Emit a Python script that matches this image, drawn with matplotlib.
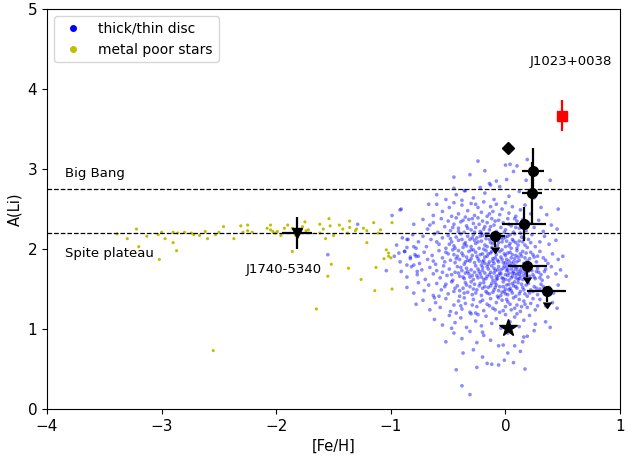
import matplotlib
matplotlib.use("Agg")
import matplotlib.pyplot as plt
from matplotlib.lines import Line2D
import numpy as np

# disc stars ([Fe/H], A(Li))
disc = np.array([
    (-0.24, 3.10), (0.19, 3.12), (0.00, 3.05), (0.04, 3.06), (0.10, 3.04), (-0.18, 2.98),
    (-0.14, 2.82), (-0.08, 2.85), (0.01, 2.87), (0.07, 2.97), (0.18, 2.86), (0.39, 2.86),
    (-0.31, 2.93), (-0.45, 2.90),
    (-0.60, 2.68), (-0.35, 2.73), (-0.43, 2.68), (-0.45, 2.76), (-0.36, 2.73), (-0.22, 2.77),
    (-0.13, 2.80), (-0.28, 2.64), (-0.18, 2.70), (-0.05, 2.78), (0.03, 2.66), (0.12, 2.72),
    (-0.52, 2.62), (-0.10, 2.62), (0.25, 2.64), (-0.38, 2.61),
    (-0.92, 2.49), (-0.67, 2.56), (-0.60, 2.56), (0.46, 2.50), (-0.55, 2.47), (-0.49, 2.52),
    (-0.45, 2.58), (-0.41, 2.44), (-0.38, 2.55), (-0.33, 2.48), (-0.30, 2.57), (-0.27, 2.42),
    (-0.24, 2.52), (-0.21, 2.46), (-0.19, 2.59), (-0.16, 2.41), (-0.13, 2.53), (-0.11, 2.47),
    (-0.08, 2.56), (-0.05, 2.43), (-0.03, 2.50), (0.00, 2.58), (0.03, 2.45), (0.06, 2.53),
    (0.09, 2.41), (0.13, 2.49), (0.17, 2.55), (0.22, 2.44), (0.31, 2.52), (-0.63, 2.42),
    (-0.47, 2.41), (-0.35, 2.40), (-0.26, 2.56), (-0.14, 2.44), (0.36, 2.43),
    (-0.80, 2.31), (-0.72, 2.37), (-0.68, 2.25), (-0.63, 2.33), (-0.59, 2.21), (-0.56, 2.38),
    (-0.53, 2.28), (-0.50, 2.35), (-0.48, 2.23), (-0.45, 2.31), (-0.43, 2.39), (-0.41, 2.26),
    (-0.39, 2.34), (-0.36, 2.21), (-0.34, 2.29), (-0.32, 2.37), (-0.30, 2.24), (-0.28, 2.32),
    (-0.26, 2.27), (-0.24, 2.39), (-0.22, 2.22), (-0.20, 2.35), (-0.18, 2.28), (-0.16, 2.33),
    (-0.14, 2.24), (-0.12, 2.38), (-0.10, 2.30), (-0.08, 2.22), (-0.06, 2.36), (-0.04, 2.27),
    (-0.02, 2.33), (0.00, 2.24), (0.02, 2.38), (0.05, 2.29), (0.07, 2.21), (0.10, 2.35),
    (0.12, 2.26), (0.15, 2.37), (0.18, 2.23), (0.21, 2.32), (0.25, 2.27), (0.29, 2.36),
    (0.33, 2.22), (0.40, 2.30), (0.45, 2.25), (-0.66, 2.30), (-0.46, 2.27), (-0.37, 2.36),
    (-0.27, 2.21), (-0.19, 2.25), (-0.09, 2.35), (0.03, 2.31), (0.08, 2.38), (-0.29, 2.38),
    (-1.29, 2.31),
    (-0.95, 2.05), (-0.90, 2.14), (-0.86, 2.02), (-0.81, 2.18), (-0.76, 2.09), (-0.72, 2.16),
    (-0.69, 2.03), (-0.65, 2.12), (-0.62, 2.19), (-0.58, 2.06), (-0.55, 2.14), (-0.52, 2.01),
    (-0.50, 2.17), (-0.47, 2.09), (-0.45, 2.04), (-0.43, 2.15), (-0.41, 2.11), (-0.39, 2.19),
    (-0.37, 2.02), (-0.35, 2.08), (-0.33, 2.16), (-0.31, 2.12), (-0.30, 2.03), (-0.28, 2.18),
    (-0.26, 2.07), (-0.25, 2.14), (-0.23, 2.01), (-0.21, 2.10), (-0.20, 2.17), (-0.18, 2.05),
    (-0.17, 2.13), (-0.15, 2.19), (-0.13, 2.08), (-0.12, 2.02), (-0.10, 2.15), (-0.08, 2.11),
    (-0.07, 2.04), (-0.05, 2.18), (-0.03, 2.09), (-0.02, 2.13), (0.00, 2.03), (0.02, 2.16),
    (0.04, 2.07), (0.06, 2.12), (0.08, 2.19), (0.10, 2.01), (0.12, 2.10), (0.14, 2.15),
    (0.17, 2.05), (0.20, 2.12), (0.23, 2.18), (0.26, 2.03), (0.30, 2.09), (0.34, 2.16),
    (0.38, 2.06), (0.44, 2.11), (-0.60, 2.09), (-0.48, 2.13), (-0.34, 2.04), (-0.27, 2.11),
    (-0.19, 2.00), (-0.11, 2.07), (-0.04, 2.14), (0.05, 2.01), (0.09, 2.08), (0.16, 2.14),
    (-0.38, 2.12), (-0.22, 2.16), (-0.14, 2.12), (0.01, 2.10),
    (-0.97, 1.91), (-0.92, 1.84), (-0.88, 1.97), (-0.83, 1.88), (-0.79, 1.93), (-0.75, 1.82),
    (-0.71, 1.96), (-0.68, 1.87), (-0.64, 1.92), (-0.61, 1.81), (-0.58, 1.98), (-0.55, 1.89),
    (-0.53, 1.84), (-0.50, 1.94), (-0.48, 1.86), (-0.46, 1.99), (-0.44, 1.83), (-0.42, 1.91),
    (-0.40, 1.87), (-0.38, 1.95), (-0.36, 1.81), (-0.34, 1.90), (-0.32, 1.97), (-0.31, 1.85),
    (-0.29, 1.92), (-0.27, 1.83), (-0.26, 1.96), (-0.24, 1.88), (-0.22, 1.93), (-0.21, 1.80),
    (-0.19, 1.86), (-0.17, 1.98), (-0.16, 1.91), (-0.14, 1.84), (-0.13, 1.95), (-0.11, 1.88),
    (-0.10, 1.82), (-0.08, 1.93), (-0.07, 1.86), (-0.05, 1.97), (-0.04, 1.90), (-0.02, 1.83),
    (-0.01, 1.94), (0.01, 1.87), (0.02, 1.81), (0.04, 1.96), (0.05, 1.89), (0.07, 1.84),
    (0.09, 1.92), (0.10, 1.98), (0.12, 1.86), (0.14, 1.91), (0.16, 1.82), (0.18, 1.95),
    (0.21, 1.88), (0.24, 1.93), (0.27, 1.84), (0.30, 1.97), (0.33, 1.89), (0.37, 1.82),
    (0.41, 1.94), (0.46, 1.87), (0.50, 1.91), (-0.63, 1.85), (-0.52, 1.96), (-0.43, 1.88),
    (-0.35, 1.84), (-0.28, 1.99), (-0.23, 1.85), (-0.18, 1.90), (-0.12, 1.97), (-0.06, 1.84),
    (-0.03, 1.99), (0.00, 1.92), (0.03, 1.85), (0.06, 1.93), (0.08, 1.80), (0.11, 1.90),
    (0.15, 1.97), (0.20, 1.83), (0.25, 1.90), (-0.15, 1.81), (-0.09, 1.89), (-0.41, 1.98),
    (-0.20, 1.94),
    (-0.91, 1.72), (-0.86, 1.65), (-0.82, 1.78), (-0.77, 1.68), (-0.73, 1.74), (-0.70, 1.62),
    (-0.66, 1.77), (-0.63, 1.69), (-0.60, 1.73), (-0.57, 1.64), (-0.54, 1.79), (-0.51, 1.67),
    (-0.49, 1.75), (-0.46, 1.61), (-0.44, 1.71), (-0.42, 1.78), (-0.40, 1.66), (-0.38, 1.73),
    (-0.36, 1.63), (-0.34, 1.76), (-0.32, 1.69), (-0.30, 1.74), (-0.28, 1.62), (-0.26, 1.79),
    (-0.25, 1.67), (-0.23, 1.72), (-0.21, 1.65), (-0.20, 1.77), (-0.18, 1.70), (-0.17, 1.63),
    (-0.15, 1.75), (-0.14, 1.68), (-0.12, 1.79), (-0.11, 1.61), (-0.09, 1.73), (-0.08, 1.66),
    (-0.06, 1.78), (-0.05, 1.70), (-0.03, 1.64), (-0.02, 1.76), (0.00, 1.68), (0.01, 1.73),
    (0.03, 1.61), (0.04, 1.79), (0.06, 1.66), (0.07, 1.72), (0.09, 1.64), (0.10, 1.77),
    (0.12, 1.69), (0.13, 1.74), (0.15, 1.62), (0.17, 1.71), (0.19, 1.78), (0.21, 1.66),
    (0.23, 1.73), (0.26, 1.63), (0.28, 1.76), (0.31, 1.68), (0.34, 1.72), (0.37, 1.65),
    (0.40, 1.78), (0.44, 1.69), (0.48, 1.74), (0.53, 1.66), (-0.55, 1.71), (-0.47, 1.68),
    (-0.39, 1.77), (-0.31, 1.65), (-0.24, 1.75), (-0.19, 1.62), (-0.13, 1.71), (-0.07, 1.63),
    (-0.04, 1.74), (-0.01, 1.79), (0.02, 1.67), (0.05, 1.75), (0.08, 1.69), (0.11, 1.62),
    (0.14, 1.78), (0.16, 1.67), (0.20, 1.72), (0.24, 1.68), (0.29, 1.71), (-0.10, 1.76),
    (-0.16, 1.66), (0.00, 1.62), (0.07, 1.78), (-0.27, 1.71), (-0.35, 1.70), (0.18, 1.64),
    (0.32, 1.61), (-0.22, 1.69), (0.11, 1.72), (-0.06, 1.67),
    (-0.86, 1.52), (-0.80, 1.45), (-0.76, 1.58), (-0.71, 1.48), (-0.67, 1.55), (-0.63, 1.42),
    (-0.60, 1.57), (-0.56, 1.49), (-0.53, 1.53), (-0.50, 1.44), (-0.47, 1.59), (-0.45, 1.47),
    (-0.42, 1.54), (-0.40, 1.41), (-0.37, 1.51), (-0.35, 1.58), (-0.33, 1.46), (-0.31, 1.53),
    (-0.29, 1.43), (-0.27, 1.56), (-0.25, 1.49), (-0.23, 1.54), (-0.21, 1.42), (-0.19, 1.58),
    (-0.17, 1.47), (-0.15, 1.52), (-0.14, 1.44), (-0.12, 1.57), (-0.10, 1.49), (-0.08, 1.55),
    (-0.07, 1.41), (-0.05, 1.53), (-0.03, 1.46), (-0.02, 1.59), (0.00, 1.50), (0.02, 1.43),
    (0.03, 1.56), (0.05, 1.48), (0.07, 1.54), (0.09, 1.41), (0.11, 1.58), (0.13, 1.47),
    (0.15, 1.52), (0.17, 1.44), (0.20, 1.57), (0.22, 1.49), (0.25, 1.53), (0.28, 1.43),
    (0.31, 1.56), (0.34, 1.47), (0.38, 1.52), (0.42, 1.45), (0.46, 1.55), (-0.58, 1.41),
    (-0.44, 1.51), (-0.36, 1.45), (-0.28, 1.50), (-0.22, 1.57), (-0.16, 1.45), (-0.09, 1.52),
    (-0.04, 1.42), (0.01, 1.55), (0.06, 1.45), (0.10, 1.51), (0.14, 1.56), (0.19, 1.41),
    (0.24, 1.47), (-0.11, 1.46), (-0.01, 1.47), (0.08, 1.59), (-0.18, 1.53), (-0.30, 1.59),
    (0.30, 1.50), (-0.52, 1.56), (0.04, 1.51),
    (-0.78, 1.31), (-0.72, 1.36), (-0.66, 1.24), (-0.61, 1.33), (-0.57, 1.27), (-0.52, 1.38),
    (-0.48, 1.22), (-0.45, 1.30), (-0.41, 1.35), (-0.38, 1.25), (-0.35, 1.32), (-0.31, 1.21),
    (-0.28, 1.37), (-0.25, 1.28), (-0.22, 1.34), (-0.19, 1.23), (-0.16, 1.31), (-0.13, 1.38),
    (-0.11, 1.26), (-0.08, 1.33), (-0.05, 1.21), (-0.03, 1.36), (0.00, 1.28), (0.02, 1.34),
    (0.05, 1.24), (0.07, 1.39), (0.10, 1.30), (0.13, 1.22), (0.16, 1.35), (0.19, 1.27),
    (0.22, 1.32), (0.26, 1.24), (0.30, 1.37), (0.35, 1.29), (0.41, 1.33), (0.45, 1.26),
    (-0.62, 1.39), (-0.43, 1.20), (-0.26, 1.20), (-0.14, 1.29), (0.04, 1.31), (0.12, 1.37),
    (-0.06, 1.39), (0.24, 1.38), (-0.36, 1.39),
    (-0.62, 1.12), (-0.55, 1.05), (-0.49, 1.17), (-0.44, 1.08), (-0.39, 1.14), (-0.34, 1.02),
    (-0.30, 1.19), (-0.26, 1.10), (-0.21, 1.04), (-0.17, 1.16), (-0.12, 1.07), (-0.08, 1.13),
    (-0.04, 1.01), (0.00, 1.18), (0.04, 1.09), (0.08, 1.15), (0.12, 1.03), (0.16, 1.11),
    (0.21, 1.17), (0.26, 1.06), (0.35, 1.09), (0.39, 1.02), (-0.47, 1.01), (-0.24, 1.18),
    (0.10, 1.19),
    (-0.52, 0.84), (-0.45, 0.95), (-0.38, 0.88), (-0.31, 0.97), (-0.25, 0.83), (-0.19, 0.92),
    (-0.13, 0.86), (-0.06, 0.79), (-0.02, 0.80), (0.08, 0.79), (0.15, 0.84), (0.16, 0.90),
    (0.19, 0.91), (0.02, 0.95), (-0.20, 0.96), (0.25, 0.98),
    (-0.37, 0.70), (-0.20, 0.65), (0.13, 0.72), (-0.43, 0.49), (-0.25, 0.52), (-0.16, 0.57),
    (-0.12, 0.56), (-0.06, 0.55), (-0.01, 0.61), (0.07, 0.58), (0.17, 0.50), (-0.38, 0.29),
    (-0.31, 0.18), (-0.28, 0.74), (0.02, 0.70),
    (-1.55, 1.93), (-0.99, 2.42), (-0.91, 2.50), (-1.04, 1.73), (-0.93, 1.95), (-0.88, 1.97),
    (-0.86, 2.12), (-0.85, 2.12), (-0.86, 1.80), (-0.83, 1.90), (-0.80, 2.03), (-0.78, 2.01),
    (-0.78, 1.91), (-0.80, 1.80), (-0.77, 1.72), (-0.76, 1.91),
    # denser core
    (-0.33, 2.26), (-0.29, 2.14), (-0.23, 2.31), (-0.17, 2.19), (-0.13, 2.28), (-0.07, 2.17),
    (-0.01, 2.21), (0.04, 2.18), (0.09, 2.27), (0.13, 2.20), (-0.41, 2.22), (-0.21, 2.20),
    (-0.36, 2.06), (-0.30, 1.99), (-0.24, 2.09), (-0.16, 2.03), (-0.09, 2.00), (-0.06, 2.08),
    (0.00, 2.15), (0.03, 2.04), (0.07, 2.10), (0.11, 2.05), (0.15, 2.09), (0.19, 2.02),
    (-0.44, 2.01), (-0.49, 2.06), (0.22, 2.08),
    (-0.37, 1.92), (-0.33, 1.86), (-0.25, 1.91), (-0.20, 1.84), (-0.15, 1.94), (-0.11, 1.85),
    (-0.08, 1.99), (-0.03, 1.87), (0.00, 1.83), (0.02, 1.95), (0.05, 1.82), (0.08, 1.88),
    (0.10, 1.84), (0.13, 1.94), (0.17, 1.89), (0.19, 1.85), (0.22, 1.96), (0.28, 1.91),
    (-0.45, 1.93), (-0.30, 1.88), (0.35, 1.86), (-0.18, 1.82),
    (-0.33, 1.72), (-0.29, 1.67), (-0.24, 1.64), (-0.20, 1.73), (-0.16, 1.78), (-0.12, 1.65),
    (-0.10, 1.70), (-0.07, 1.74), (-0.04, 1.69), (-0.02, 1.63), (0.01, 1.77), (0.03, 1.70),
    (0.05, 1.64), (0.06, 1.70), (0.09, 1.75), (0.10, 1.68), (0.12, 1.63), (0.14, 1.71),
    (0.16, 1.75), (0.18, 1.69), (0.22, 1.76), (0.25, 1.65), (0.27, 1.72), (-0.41, 1.70),
    (-0.37, 1.65), (0.30, 1.64), (0.35, 1.75), (-0.08, 1.62), (0.02, 1.74), (0.13, 1.66),
    (-0.34, 1.55), (-0.26, 1.45), (-0.20, 1.51), (-0.13, 1.54), (-0.06, 1.48), (-0.02, 1.53),
    (0.00, 1.44), (0.03, 1.49), (0.06, 1.57), (0.09, 1.53), (0.12, 1.44), (0.16, 1.49),
    (0.18, 1.55), (0.21, 1.45), (0.27, 1.51), (-0.40, 1.48), (0.33, 1.53), (-0.09, 1.58),
    (-0.29, 1.30), (-0.20, 1.36), (-0.09, 1.24), (0.01, 1.37), (0.08, 1.26), (0.17, 1.31),
    (-0.39, 1.29), (0.28, 1.29), (-0.02, 1.23), (0.14, 1.28),
])

# metal poor stars
mp_feh = [-3.39, -3.30, -3.22, -3.20, -3.13, -3.03, -3.02, -3.00, -2.97, -2.90, -2.90, -2.87,
          -2.86, -2.80, -2.74, -2.72, -2.67, -2.62, -2.60, -2.55, -2.53, -2.50, -2.46, -2.37,
          -2.31, -2.29, -2.25, -2.25, -2.21, -2.08, -2.05, -2.05, -2.03, -2.01, -1.99, -1.96,
          -1.93, -1.90, -1.86, -1.86, -1.83, -1.77, -1.75, -1.74, -1.72, -1.65, -1.62, -1.62,
          -1.59, -1.57, -1.55, -1.54, -1.53, -1.52, -1.50, -1.45, -1.42, -1.38, -1.37, -1.36,
          -1.36, -1.31, -1.30, -1.26, -1.24, -1.21, -1.21, -1.15, -1.14, -1.13, -1.11, -1.09,
          -1.06, -1.04, -1.02, -1.02, -1.00, -0.99, -0.99]
mp_ali = [2.19, 2.13, 2.25, 2.03, 2.16, 2.18, 1.87, 2.21, 2.13, 2.21, 2.08, 1.98,
          2.20, 2.21, 2.20, 2.18, 2.17, 2.22, 2.13, 0.73, 2.18, 2.21, 2.28, 2.13,
          2.29, 2.21, 2.30, 2.23, 2.21, 2.26, 2.30, 2.24, 2.22, 2.20, 2.22, 2.17,
          2.26, 2.30, 2.26, 1.97, 2.17, 2.28, 2.34, 2.23, 2.24, 1.25, 2.31, 2.20,
          2.25, 2.13, 1.66, 2.38, 2.29, 1.81, 2.17, 2.30, 2.25, 2.20, 1.76, 2.35,
          2.27, 2.23, 2.25, 1.62, 2.26, 2.23, 2.08, 2.33, 1.48, 1.77, 2.20, 2.24,
          1.88, 1.99, 1.95, 1.91, 1.89, 1.50, 2.33]

# target stars with error bars
det_feh = [0.24, 0.23, 0.16]
det_ali = [2.98, 2.70, 2.31]
det_xerr = [0.10, 0.09, 0.19]
det_yerr = [0.28, 0.39, 0.21]

ul_feh = [-0.09, 0.19, 0.36]
ul_ali = [2.16, 1.79, 1.48]
ul_xerr = [0.09, 0.17, 0.17]

diamond = (0.02, 3.26)
star = (0.02, 1.01)
j1023 = (0.49, 3.67, 0.19)
j1740 = (-1.82, 2.20, 0.13, 0.20)

big_bang = 2.75
spite = 2.2

fig = plt.figure(figsize=(6.36, 4.58), dpi=100)
ax = fig.add_axes([0.074, 0.107, 0.901, 0.873])

ax.scatter(disc[:, 0], disc[:, 1], s=7, color='blue', alpha=0.45, edgecolors='none', zorder=2)
ax.scatter(mp_feh, mp_ali, s=5, color='y', edgecolors='none', zorder=2)

ax.axhline(big_bang, color='k', ls='--', lw=0.9, zorder=3)
ax.axhline(spite, color='k', ls='--', lw=0.9, zorder=3)

ax.errorbar(det_feh, det_ali, xerr=det_xerr, yerr=det_yerr, fmt='o', color='k',
            ms=7, elinewidth=1.6, capsize=0, zorder=5)
ax.errorbar(ul_feh, ul_ali, xerr=ul_xerr, yerr=0.14, uplims=True, fmt='o', color='k',
            ms=7, elinewidth=1.6, capsize=0, zorder=5)
ax.plot(*diamond, 'D', color='k', ms=6.5, zorder=5)
ax.plot(*star, '*', color='k', ms=13, zorder=5)
ax.errorbar(j1023[0], j1023[1], yerr=j1023[2], fmt='s', color='red', ms=6.5,
            elinewidth=1.6, capsize=0, zorder=5)
ax.errorbar(j1740[0], j1740[1], xerr=j1740[2], yerr=j1740[3], fmt='v', color='k',
            ms=7, elinewidth=1.6, capsize=0, zorder=5)

ax.text(0.21, 4.35, 'J1023+0038', fontsize=9.5, va='center')
ax.text(-2.27, 1.75, 'J1740-5340', fontsize=9.5, va='center')
ax.text(-3.84, 2.95, 'Big Bang', fontsize=9.5, va='center')
ax.text(-3.84, 1.95, 'Spite plateau', fontsize=9.5, va='center')

ax.set_xlim(-4, 1)
ax.set_ylim(0, 5)
ax.set_xticks([-4, -3, -2, -1, 0, 1])
ax.set_yticks([0, 1, 2, 3, 4, 5])
ax.tick_params(labelsize=11)
ax.set_xlabel('[Fe/H]', fontsize=10.5)
ax.set_ylabel('A(Li)', fontsize=10.5)

handles = [Line2D([], [], marker='o', ls='', color='blue', ms=4),
           Line2D([], [], marker='o', ls='', color='y', ms=4)]
ax.legend(handles, ['thick/thin disc', 'metal poor stars'], loc='upper left', fontsize=10)

fig.savefig('out.png', dpi=100)
